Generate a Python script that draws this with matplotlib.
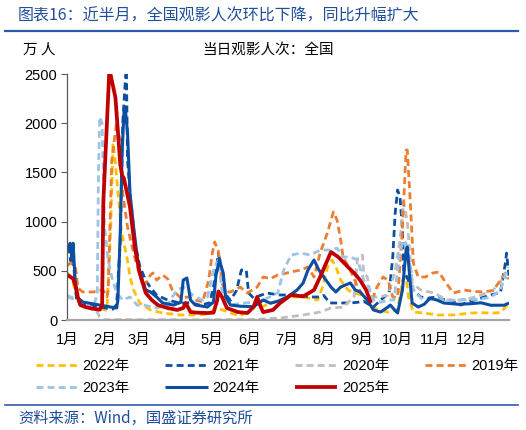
import matplotlib

matplotlib.use("Agg")
import matplotlib.pyplot as plt
from matplotlib.lines import Line2D

plt.rcParams["font.family"] = ["Liberation Sans", "Noto Sans CJK SC", "DejaVu Sans"]

W, H = 526, 430

# month starts (day of year) and labels
MONTH_DAYS = [1, 32, 60, 91, 121, 152, 182, 213, 244, 274, 305, 335]
MONTH_LABELS = ["1月", "2月", "3月", "4月", "5月", "6月", "7月", "8月", "9月", "10月", "11月", "12月"]
Y_TICKS = [0, 500, 1000, 1500, 2000, 2500]

# daily box-office admissions, 10k persons (day of year, value)
D2022 = [1, 5, 10, 20, 28, 34, 37, 39, 41, 43, 46, 51, 53, 56, 61, 70, 80, 95, 108, 117, 125, 130, 136, 144, 155, 163, 169, 177, 188, 196, 208, 212, 214, 217, 220, 223, 227, 233, 238, 243, 249, 257, 266, 274, 278, 281, 283, 287, 296, 307, 320, 334, 343, 351, 359, 366]
V2022 = [480, 430, 180, 130, 110, 100, 900, 1800, 1600, 1300, 900, 600, 437, 305, 173, 102, 71, 51, 51, 60, 122, 100, 71, 40, 132, 140, 170, 203, 234, 234, 203, 335, 437, 579, 610, 539, 406, 305, 274, 260, 203, 102, 81, 100, 406, 437, 234, 81, 71, 51, 51, 70, 75, 70, 75, 173]

D2021 = [1, 2, 4, 5, 9, 16, 28, 39, 42, 45, 47, 50, 51, 53, 57, 61, 66, 70, 75, 84, 95, 103, 111, 119, 123, 126, 129, 132, 136, 141, 145, 149, 151, 155, 166, 177, 191, 202, 210, 213, 218, 227, 235, 241, 246, 254, 260, 267, 270, 272, 274, 276, 278, 279, 283, 287, 293, 299, 304, 309, 318, 326, 334, 343, 351, 359, 363, 364, 366]
V2021 = [700, 780, 600, 760, 203, 160, 132, 110, 160, 800, 2000, 2600, 1626, 1300, 800, 550, 400, 330, 254, 203, 170, 175, 150, 175, 400, 680, 450, 260, 200, 300, 508, 508, 274, 224, 274, 254, 255, 234, 234, 250, 173, 173, 173, 180, 190, 132, 203, 274, 640, 1087, 1321, 1250, 915, 508, 400, 305, 234, 220, 230, 215, 200, 152, 190, 224, 254, 280, 579, 680, 450]

D2020 = [1, 11, 20, 26, 28, 31, 37, 70, 112, 153, 177, 196, 210, 219, 229, 238, 241, 243, 245, 246, 249, 252, 257, 266, 272, 276, 279, 282, 286, 293, 304, 315, 326, 334, 343, 353, 362, 366]
V2020 = [250, 200, 130, 80, 30, 5, 3, 3, 3, 5, 20, 51, 81, 122, 130, 234, 640, 650, 660, 478, 437, 234, 234, 250, 500, 813, 1200, 1000, 376, 305, 274, 203, 203, 220, 254, 305, 437, 420]

D2019 = [1, 4, 8, 10, 14, 23, 27, 31, 34, 35, 38, 42, 45, 47, 51, 56, 60, 64, 70, 72, 75, 80, 84, 88, 95, 101, 107, 113, 118, 121, 123, 126, 129, 132, 136, 144, 150, 158, 163, 169, 175, 180, 186, 194, 200, 205, 210, 216, 221, 224, 227, 229, 235, 241, 246, 252, 257, 262, 266, 270, 274, 278, 281, 282, 285, 287, 291, 297, 303, 308, 314, 320, 329, 337, 345, 353, 359, 363, 366]
V2019 = [550, 580, 540, 325, 285, 285, 305, 300, 234, 305, 1626, 2015, 1800, 1290, 945, 680, 500, 335, 457, 478, 406, 457, 420, 305, 224, 234, 203, 183, 406, 680, 793, 700, 376, 285, 285, 335, 274, 335, 437, 420, 457, 470, 488, 508, 539, 437, 680, 884, 1098, 1016, 813, 640, 508, 335, 234, 173, 335, 437, 406, 234, 230, 915, 1728, 1728, 1087, 579, 437, 437, 478, 488, 376, 274, 305, 290, 285, 300, 406, 478, 420]

D2023 = [1, 9, 14, 23, 26, 27, 28, 30, 32, 35, 38, 42, 47, 53, 59, 64, 75, 84, 88, 92, 97, 105, 113, 117, 122, 126, 129, 136, 144, 155, 163, 175, 180, 186, 194, 202, 210, 219, 224, 229, 235, 241, 246, 250, 254, 260, 266, 271, 276, 279, 281, 285, 287, 295, 307, 318, 329, 340, 351, 359, 365]
V2023 = [234, 203, 132, 132, 274, 1500, 2063, 2000, 945, 610, 437, 274, 203, 234, 150, 152, 122, 152, 234, 305, 335, 250, 200, 234, 508, 610, 293, 152, 170, 180, 203, 274, 508, 660, 680, 660, 711, 711, 731, 640, 640, 610, 406, 335, 203, 180, 203, 203, 700, 810, 780, 500, 305, 203, 210, 200, 205, 210, 230, 305, 539]

D2024 = [1, 3.5, 5, 6, 7.5, 9, 14, 28, 37, 42, 43, 45, 46.5, 48, 49, 51, 53, 56, 59, 61, 66, 70, 75, 80, 89, 95, 97, 100, 103, 107, 117, 122, 124, 127, 128, 130, 132, 136, 144, 155, 163, 169, 175, 183, 191, 196, 200, 205, 209, 213, 219, 223, 227, 231, 235, 239, 243, 249, 254, 260, 266, 268, 271, 274, 278, 281, 282, 284, 286, 291, 296, 301, 307, 312, 324, 334, 343, 351, 362, 366]
V2024 = [700, 780, 640, 780, 450, 234, 183, 152, 132, 122, 200, 900, 1700, 2100, 2165, 1900, 1290, 945, 640, 478, 305, 285, 234, 173, 152, 180, 406, 427, 203, 152, 132, 183, 450, 620, 560, 478, 234, 152, 140, 135, 203, 170, 190, 234, 305, 376, 508, 610, 508, 437, 335, 285, 335, 356, 376, 305, 285, 203, 102, 81, 132, 152, 110, 71, 305, 711, 742, 437, 173, 132, 160, 224, 200, 173, 160, 165, 175, 150, 150, 173]

D2025 = [1, 6, 8.5, 10, 12, 16, 22, 28, 30, 31, 36, 41, 45, 46.5, 48, 53, 57, 61, 66, 71, 76, 84, 92, 97, 99, 100, 103, 108, 117, 122, 125, 126, 129, 133, 142, 150, 155, 158, 161, 163, 171, 177, 186, 196, 205, 210, 219, 225, 233, 238, 243, 248, 252]
V2025 = [460, 420, 330, 230, 152, 132, 115, 105, 150, 1200, 2550, 2260, 1580, 1470, 1440, 1150, 740, 480, 275, 203, 152, 122, 102, 122, 173, 150, 81, 75, 71, 75, 200, 290, 234, 122, 81, 71, 132, 234, 132, 80, 102, 173, 254, 240, 305, 437, 691, 640, 539, 478, 406, 305, 173]

SERIES = [
    ("2022年", D2022, V2022, "#FFC000", "--"),
    ("2021年", D2021, V2021, "#0B4EA2", "--"),
    ("2020年", D2020, V2020, "#BFBFBF", "--"),
    ("2019年", D2019, V2019, "#ED7D31", "--"),
    ("2023年", D2023, V2023, "#9DC3E6", "--"),
    ("2024年", D2024, V2024, "#0B4EA2", "-"),
    ("2025年", D2025, V2025, "#C00000", "-"),
]
LINE_W = {"2024年": 2.2, "2025年": 2.7}
BLUE = "#1F4E9A"
CJK = ["Noto Sans CJK SC", "DejaVu Sans"]


def fx(px):
    return px / W


def fy(py):
    return 1 - py / H


fig = plt.figure(figsize=(W / 100, H / 100), dpi=100)
ax = fig.add_axes([fx(67), fy(320), fx(509) - fx(67), fy(74) - fy(320)])

handles = {}
for name, days, vals, color, ls in SERIES:
    lw = LINE_W.get(name, 2.0)
    (ln,) = ax.plot(days, vals, color=color, linewidth=lw, linestyle=ls,
                    solid_joinstyle="round", solid_capstyle="butt")
    if ls == "--":
        ln.set_dashes((2.5, 1.5))
    handles[name] = ln

ax.set_xlim(1, 366)
ax.set_ylim(0, 2500)
ax.set_xticks(MONTH_DAYS)
ax.set_xticklabels(MONTH_LABELS, fontsize=10.5)
ax.set_yticks(Y_TICKS)
ax.set_yticklabels([str(v) for v in Y_TICKS], fontsize=10.5)
ax.tick_params(axis="x", length=0, pad=9)
ax.tick_params(axis="y", length=4, direction="out", color="#595959", pad=3)
for s in ("top", "right"):
    ax.spines[s].set_visible(False)
ax.spines["left"].set_color("#595959")
ax.spines["left"].set_linewidth(0.9)
ax.spines["bottom"].set_color("#A6A6A6")
ax.spines["bottom"].set_linewidth(1.6)

# legend: 4 columns, filled column-wise
order = ["2022年", "2023年", "2021年", "2024年", "2020年", "2025年", "2019年"]
fig.legend([handles[k] for k in order], order, ncol=4, frameon=False,
           loc="center left", bbox_to_anchor=(fx(30), fy(377)),
           fontsize=10.5, handlelength=2.9, handletextpad=0.3,
           columnspacing=2.45, labelspacing=0.6, borderaxespad=0)

# header / footer
fig.text(fx(18), fy(16), "图表16：近半月，全国观影人次环比下降，同比升幅扩大",
         fontsize=11.5, color=BLUE, style="italic", va="center", family=CJK)
fig.add_artist(Line2D([fx(5), fx(518)], [fy(31), fy(31)], color="#2E5AAC", linewidth=1.6))
fig.text(fx(23), fy(50), "万 人", fontsize=10.5, va="center", family=CJK)
fig.text(fx(268), fy(50), "当日观影人次：全国", fontsize=10.5, va="center", ha="center",
         family=CJK)
fig.add_artist(Line2D([fx(5), fx(518)], [fy(405), fy(405)], color="#2E5AAC", linewidth=1.2))
fig.text(fx(18), fy(418), "资料来源：Wind，国盛证券研究所", fontsize=11, color=BLUE,
         style="italic", va="center", family=CJK)

fig.savefig("out.png", dpi=100)
